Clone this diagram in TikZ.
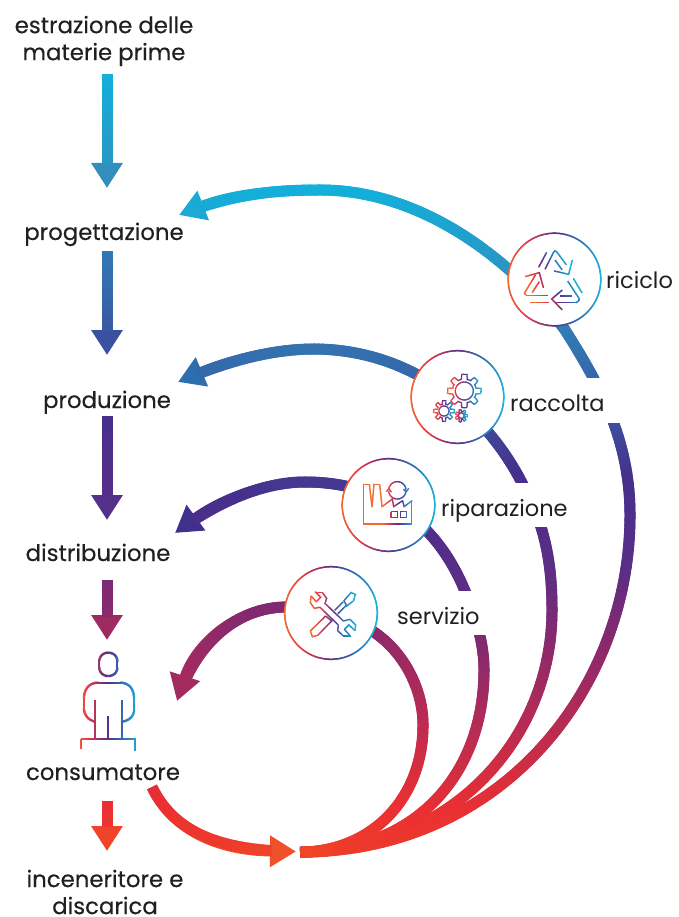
\documentclass[tikz,border=0pt]{standalone}
\usepackage{fontspec}
\setmainfont{Poppins}
\newfontfamily\medfont[FakeBold=0.3]{Poppins}
\usetikzlibrary{arrows.meta,decorations.markings}
% vertical colour stops of the strokes
\definecolor{vA}{HTML}{12B0DA}\definecolor{vB}{HTML}{2F90C0}\definecolor{vC}{HTML}{3566A9}
\definecolor{vD}{HTML}{472F8C}\definecolor{vE}{HTML}{5A2E85}\definecolor{vF}{HTML}{85296F}
\definecolor{vG}{HTML}{B62B55}\definecolor{vH}{HTML}{E92F33}\definecolor{vI}{HTML}{EE3A2A}
\definecolor{vJ}{HTML}{F26522}
% horizontal colour stops of the icons
\definecolor{hA}{HTML}{F26A2E}\definecolor{hB}{HTML}{EA3A45}\definecolor{hC}{HTML}{5B2D88}
\definecolor{hD}{HTML}{2F70B4}\definecolor{hE}{HTML}{17B5DC}
\definecolor{ink}{HTML}{231F20}
% arrowhead colours
\definecolor{dA}{HTML}{338DBD}\definecolor{dB}{HTML}{3B50A0}\definecolor{dC}{HTML}{54308A}
\definecolor{dD}{HTML}{9F2A62}\definecolor{dE}{HTML}{F0432A}
\definecolor{lA}{HTML}{1BA9D6}\definecolor{lB}{HTML}{2C6FAE}\definecolor{lC}{HTML}{40308C}
\definecolor{lD}{HTML}{A22C5F}\definecolor{lE}{HTML}{F0502A}
\newcommand{\mixstop}[5]{\pgfmathsetmacro\pp{100*(#5-#1)/(#2-#1)}\colorlet{gc}{#4!\pp!#3}}
\newcommand{\vcolor}[1]{%
  \ifdim#1pt<75pt \colorlet{gc}{vA}\else
  \ifdim#1pt<185pt \mixstop{75}{185}{vA}{vB}{#1}\else
  \ifdim#1pt<300pt \mixstop{185}{300}{vB}{vC}{#1}\else
  \ifdim#1pt<415pt \mixstop{300}{415}{vC}{vD}{#1}\else
  \ifdim#1pt<520pt \mixstop{415}{520}{vD}{vE}{#1}\else
  \ifdim#1pt<600pt \mixstop{520}{600}{vE}{vF}{#1}\else
  \ifdim#1pt<700pt \mixstop{600}{700}{vF}{vG}{#1}\else
  \ifdim#1pt<800pt \mixstop{700}{800}{vG}{vH}{#1}\else
  \ifdim#1pt<845pt \mixstop{800}{845}{vH}{vI}{#1}\else
  \ifdim#1pt<870pt \mixstop{845}{870}{vI}{vJ}{#1}\else
  \colorlet{gc}{vJ}\fi\fi\fi\fi\fi\fi\fi\fi\fi\fi}
\newcommand{\hcolor}[1]{%
  \ifdim#1pt<0pt \colorlet{gc}{hA}\else
  \ifdim#1pt<20pt \mixstop{0}{20}{hA}{hB}{#1}\else
  \ifdim#1pt<50pt \mixstop{20}{50}{hB}{hC}{#1}\else
  \ifdim#1pt<75pt \mixstop{50}{75}{hC}{hD}{#1}\else
  \ifdim#1pt<100pt \mixstop{75}{100}{hD}{hE}{#1}\else
  \colorlet{gc}{hE}\fi\fi\fi\fi\fi}
\newcommand{\segment}[2]{\pgfsetarrows{-}\pgfsetstrokecolor{gc}\pgfsetlinewidth{#1}\pgfsetbuttcap
  \pgfpathmoveto{\pgfqpoint{0pt}{0pt}}\pgfpathlineto{\pgfqpoint{#2}{0pt}}\pgfusepath{stroke}}
\tikzset{
  x=1pt,y=-1pt,
  flow/.style n args={4}{line width=#2pt-0.8pt,draw=#4,line cap=butt,
    -{Triangle[length=#3pt,width=30pt,color=#4]},
    decoration={markings,mark=between positions 0 and -#3pt step 1.2pt with {%
      \pgfgettransformentries{\ma}{\mb}{\mc}{\md}{\me}{\mf}%
      \pgfmathsetmacro\yy{860-(860+\mf)*#1}\vcolor{\yy}\segment{#2pt}{2pt}}},
    postaction={decorate}},
  hg/.style n args={3}{decoration={markings,mark=between positions 0 and 1 step 0.8pt with {%
      \pgfgettransformentries{\ma}{\mb}{\mc}{\md}{\me}{\mf}%
      \pgfmathsetmacro\xx{100*(\me-#1)/(#2-#1)}\hcolor{\xx}\segment{#3pt}{1.1pt}}},
    decorate},
  hgtilt/.style n args={3}{decoration={markings,mark=between positions 0 and 1 step 0.8pt with {%
      \pgfgettransformentries{\ma}{\mb}{\mc}{\md}{\me}{\mf}%
      \pgfmathsetmacro\xx{100*(\me+0.5*\mf-#1)/(#2-#1)}\hcolor{\xx}\segment{#3pt}{1.1pt}}},
    decorate},
  ringnode/.style={circle,fill=white,draw=hC,line width=0.8pt,minimum size=92.5pt,inner sep=0pt},
  leftlab/.style={font=\medfont\fontsize{22.8}{27}\selectfont,text=ink,align=center,inner sep=0pt},
  rightlab/.style={font=\fontsize{22.5}{27}\selectfont,text=ink,inner sep=0pt,fill=white,
     anchor=base west,text height=33pt,text depth=11pt},
}
\newcommand{\gearpath}[8]{\path[hg={#7}{#8}{1.2}] plot[domain=0:359,samples=#6,variable=\t]
  ({#1+(#3+#4*max(-1,min(1,2.6*cos(#5*\t))))*cos(\t)},{#2+(#3+#4*max(-1,min(1,2.6*cos(#5*\t))))*sin(\t)}) -- cycle;}
\newcommand{\polycircle}[5]{\path[hg={#4}{#5}{1.2}] plot[domain=0:360,samples=37,variable=\t]
  ({#1+#3*cos(\t)},{#2+#3*sin(\t)});}
\begin{document}
\begin{tikzpicture}
\useasboundingbox (0,0) rectangle (678,917);
% named ends
\coordinate (merge) at (300,852);
\coordinate (a1s) at (107,74); \coordinate (a1e) at (107,188);
\coordinate (a2s) at (107,251); \coordinate (a2e) at (107,355);
\coordinate (a3s) at (107,416); \coordinate (a3e) at (107,520);
\coordinate (a4s) at (107,580); \coordinate (a4e) at (107,640);
\coordinate (a5s) at (107,801); \coordinate (a5e) at (107,851);
\coordinate (h1) at (179,215); \coordinate (h2) at (178,382);
\coordinate (h3) at (175,533); \coordinate (h4) at (177,701);
\coordinate (csm) at (152,787); \coordinate (h5) at (296,851.5);
% left column
\draw[flow={1}{11}{25}{dA}] (a1s) -- (a1e);
\draw[flow={1}{11}{25}{dB}] (a2s) -- (a2e);
\draw[flow={1}{11}{25}{dC}] (a3s) -- (a3e);
\draw[flow={1}{11}{25}{dD}] (a4s) -- (a4e);
\draw[flow={1}{11}{25}{dE}] (a5s) -- (a5e);
% return loops
\draw[flow={1.17}{11}{26}{lA}] (merge) .. controls (500,852) and (630,690) .. (630,515)
  .. controls (630,440) and (600,385) .. (565,330)
  .. controls (520,270) and (430,190) .. (320,190)
  .. controls (270,190) and (230,195) .. (h1);
\draw[flow={1.157}{11}{26}{lB}] (merge) .. controls (450,852) and (552,740) .. (552,610)
  .. controls (552,575) and (548,550) .. (541,527)
  .. controls (535,510) and (530,498) .. (522,483)
  .. controls (490,420) and (420,350) .. (315,349)
  .. controls (270,349) and (225,362) .. (h2);
\draw[flow={1.227}{11}{26}{lC}] (merge) .. controls (420,852) and (484,770) .. (484,670)
  .. controls (484,645) and (477,620) .. (465,591)
  .. controls (440,530) and (390,482) .. (305,482)
  .. controls (265,482) and (220,500) .. (h3);
\draw[flow={1.06}{11}{26}{lD}] (merge) .. controls (370,852) and (423,800) .. (423,725)
  .. controls (423,690) and (405,655) .. (378,635)
  .. controls (355,617) and (320,605) .. (285,607)
  .. controls (235,608) and (195,645) .. (h4);
\draw[flow={1}{11}{26}{lE}] (csm) .. controls (175,835) and (225,851) .. (h5);
% circles
\node[ringnode] (riciclo) at (554.5,279.5) {};
\node[ringnode] (raccolta) at (457.5,397) {};
\node[ringnode] (riparazione) at (388.5,505) {};
\node[ringnode] (servizio) at (331,613) {};
\path[hg={508}{601}{1.5}] (riciclo) circle[radius=46.3];
\path[hg={411}{504}{1.5}] (raccolta) circle[radius=46.3];
\path[hg={342}{435}{1.5}] (riparazione) circle[radius=46.3];
\path[hg={285}{377}{1.5}] (servizio) circle[radius=46.3];
% recycling icon
\begin{scope}[shift={(480,210)},x=0.3333pt,y=-0.3333pt]
\tikzset{rc/.style={hgtilt={385}{436}{1.4}}}
\path[rc] (200,127) -- (177,170);
\path[rc] (195,178) -- (220,128) -- (225,122) -- (232,128) -- (258,163);
\path[rc] (225,150) -- (245,178);
\path[rc] (277,150) -- (266,193) -- (223,183);
\path[rc] (280,205) -- (305,247);
\path[rc] (263,213) -- (297,265) -- (297,272) -- (290,277) -- (225,277);
\path[rc] (247,240) -- (215,267) -- (245,298);
\path[rc] (240,258) -- (275,258);
\path[rc] (150,277) -- (203,277);
\path[rc] (203,257) -- (140,257) -- (133,250) -- (165,197);
\path[rc] (135,200) -- (178,188) -- (190,232);
\path[rc] (178,215) -- (157,247);
\end{scope}
% gears icon
\begin{scope}[shift={(400,340)},x=0.3333pt,y=-0.3333pt]
\gearpath{193}{153}{43}{7}{8}{241}{447}{482}
\polycircle{193}{153}{27}{447}{482}
\gearpath{132}{213}{26}{5}{8}{161}{433}{455}
\polycircle{132}{213}{15}{433}{455}
\gearpath{184}{227}{15}{3}{7}{141}{455}{467}
\polycircle{184}{227}{8}{455}{467}
\end{scope}
% factory icon
\begin{scope}[shift={(335,455)},x=0.3333pt,y=-0.3333pt]
\tikzset{fc/.style={hg={383}{414}{1.3}}}
\path[fc] (85,205) -- (85,88) -- (103,88) -- (111,155) -- (117,88) -- (134,88) -- (141,155)
  -- (172,132) -- (176,155) -- (203,137) -- (207,155) -- (230,138) -- (230,207) -- (85,207);
\path[fc] (168,170) rectangle (187,188);
\path[fc] (197,170) rectangle (215,188);
\path[fc] plot[domain=190:350,samples=25,variable=\t] ({187+26*cos(\t)},{106+26*sin(\t)});
\path[fc] plot[domain=10:170,samples=25,variable=\t] ({187+26*cos(\t)},{106+26*sin(\t)});
\path[fc] (154,110) -- (161,101) -- (168,110);
\path[fc] (206,102) -- (213,111) -- (220,102);
\end{scope}
% tools icon
\begin{scope}[shift={(275,560)},x=0.3333pt,y=-0.3333pt]
\tikzset{tc/.style={hg={310}{356}{1.3}}}
\path[tc] (122,97) -- (142,97) -- (155,115) -- (150,130) -- (205,183) -- (225,178) -- (242,195)
  -- (240,212) -- (222,195) -- (208,208) -- (226,228) -- (205,228) -- (188,212) -- (190,195) -- (135,142) -- (118,145)
  -- (106,128) -- (108,108) -- (124,125) -- (137,112) -- (122,97);
\path[tc] (207,122) -- (228,98) -- (241,103) -- (236,122) -- (215,138) -- (207,122);
\path[tc] (205,125) -- (180,150);
\path[tc] (213,137) -- (190,160);
\path[tc] (152,168) -- (106,213) -- (112,230) -- (128,226) -- (170,183) -- (152,168);
\end{scope}
% person icon
\begin{scope}[shift={(60,640)},x=0.3333pt,y=-0.3333pt]
\tikzset{pc/.style={hg={74}{140}{2.3}}}
\path[pc] (118,65) .. controls (118,48) and (130,38) .. (145,38) .. controls (160,38) and (172,48) .. (172,65)
  -- (172,82) .. controls (172,98) and (160,108) .. (145,108) .. controls (130,108) and (118,98) .. (118,82) -- (118,65);
\path[pc] (105,245) .. controls (85,240) and (72,225) .. (72,205) -- (72,175)
  .. controls (72,145) and (90,128) .. (115,128) -- (180,128)
  .. controls (205,128) and (222,145) .. (222,175) -- (222,210)
  .. controls (222,230) and (205,243) .. (185,245);
\path[pc] (105,180) -- (105,298);
\path[pc] (185,180) -- (185,298);
\path[pc] (145,228) -- (145,298);
\path[pc] (62,328) -- (62,298) -- (226,298) -- (226,332);
\end{scope}
% labels
\node[leftlab] (materie) at (104,41) {estrazione delle\\materie prime};
\node[leftlab,anchor=base] (prog) at (104,240) {progettazione};
\node[leftlab,anchor=base] (prod) at (107,408) {produzione};
\node[leftlab,anchor=base] (dist) at (98,561) {distribuzione};
\node[leftlab,anchor=base] (cons) at (103,780) {consumatore};
\node[leftlab] (incin) at (105,892) {inceneritore e\\discarica};
\node[font=\fontsize{22.5}{27}\selectfont,text=ink,inner sep=0pt,anchor=base west] (lric) at (606,288) {riciclo};
\node[rightlab,text depth=12pt] (lrac) at (510,411) {raccolta\kern26pt};
\node[rightlab] (lrip) at (441,516) {riparazione};
\node[rightlab] (lser) at (397,624) {servizio\kern10pt};
\end{tikzpicture}
\end{document}
